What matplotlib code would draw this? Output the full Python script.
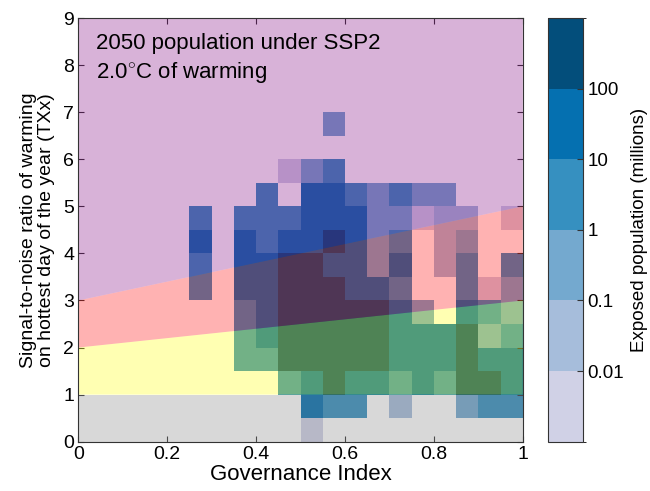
import numpy as np
import matplotlib
matplotlib.use('Agg')
import matplotlib.pyplot as plt
from matplotlib.colors import ListedColormap, BoundaryNorm
from matplotlib.patches import Polygon

plt.rcParams['font.family'] = ['Liberation Sans', 'DejaVu Sans']
plt.rcParams['mathtext.fontset'] = 'custom'
plt.rcParams['mathtext.rm'] = 'Liberation Sans'

n = np.nan

# cell edges: governance index (x) and signal-to-noise ratio (y)
x_edges = np.linspace(0, 1, 21)
y_edges = np.linspace(0, 7, 15)

# exposed population (millions), rows from y=0 upwards, nan = no people
exposed = [
    [n, n, n, n, n, n, n, n, n, n, 0.005, n, n, n, n, n, n, n, n, n],
    [n, n, n, n, n, n, n, n, n, n, 50, 5, 5, n, 0.05, n, n, 0.5, 5, 5],
    [n, n, n, n, n, n, n, n, n, 5, 50, 500, 50, 50, 5, 50, 5, 500, 500, 50],
    [n, n, n, n, n, n, n, 5, 5, 500, 500, 500, 500, 500, 50, 50, 50, 500, 50, 50],
    [n, n, n, n, n, n, n, 5, 50, 500, 500, 500, 500, 500, 50, 50, 50, 500, 0.5, 5],
    [n, n, n, n, n, n, n, 5, 50, 500, 500, 500, 500, 500, 50, 0.5, n, 50, 5, 0.5],
    [n, n, n, n, n, 5, n, 50, 50, 500, 500, 500, 50, 50, 5, n, n, 5, 0.005, 0.5],
    [n, n, n, n, n, 5, n, 50, 50, 500, 500, 50, 50, 0.5, 50, n, 0.05, 5, n, 5],
    [n, n, n, n, n, 50, n, 50, 5, 50, 50, 500, 50, 0.5, 5, n, 0.05, 0.5, n, n],
    [n, n, n, n, n, 5, n, 5, 5, 5, 50, 50, 50, 0.5, 0.5, 0.005, 0.05, 0.05, n, 0.005],
    [n, n, n, n, n, n, n, n, 5, n, 50, 50, 5, 0.5, 5, 0.5, 0.5, n, n, n],
    [n, n, n, n, n, n, n, n, n, 0.005, 0.5, 5, n, n, n, n, n, n, n, n],
    [n, n, n, n, n, n, n, n, n, n, n, n, n, n, n, n, n, n, n, n],
    [n, n, n, n, n, n, n, n, n, n, n, 0.5, n, n, n, n, n, n, n, n],
]

levels = [0.001, 0.01, 0.1, 1, 10, 100, 1000]
level_colors = ['#d0d1e6', '#a6bddb', '#74a9cf', '#3690c0', '#0570b0', '#034e7b']
cbar_ticks = [0.01, 0.1, 1, 10, 100]
cbar_labels = ['0.01', '0.1', '1', '10', '100']

# shaded zones (semi transparent, drawn on top of the cells)
zones = [
    ([(0, 0), (1, 0), (1, 1), (0, 1)], (0.5, 0.5, 0.5)),
    ([(0, 1), (1, 1), (1, 3), (0, 2)], (1, 1, 0)),
    ([(0, 2), (1, 3), (1, 5), (0, 3)], (1, 0, 0)),
    ([(0, 3), (1, 5), (1, 9), (0, 9)], (0.5, 0, 0.5)),
]

fig = plt.figure(figsize=(6.5, 4.91), dpi=100)
ax = fig.add_axes([0.1205, 0.1004, 0.6838, 0.8629])
cax = fig.add_axes([0.843, 0.1004, 0.054, 0.8629])

cmap = ListedColormap(level_colors)
norm = BoundaryNorm(levels, cmap.N)
mesh = ax.pcolormesh(x_edges, y_edges, np.ma.masked_invalid(np.array(exposed)),
                     cmap=cmap, norm=norm, zorder=1)

for pts, col in zones:
    ax.add_patch(Polygon(pts, closed=True, facecolor=col, edgecolor='none',
                         alpha=0.3, zorder=2))

ax.set_xlim(0, 1)
ax.set_ylim(0, 9)
ax.set_xticks([0, 0.2, 0.4, 0.6, 0.8, 1])
ax.set_xticklabels(['0', '0.2', '0.4', '0.6', '0.8', '1'])
ax.set_yticks(range(0, 10))
ax.tick_params(direction='in', top=True, right=True, labelsize=14, length=4,
               color='#333333', pad=3)
for s in ax.spines.values():
    s.set_color('#333333')
    s.set_zorder(5)
ax.set_xlabel('Governance Index', fontsize=16, labelpad=1)
ax.set_ylabel('Signal-to-noise ratio of warming\non hottest day of the year (TXx)',
              fontsize=14, labelpad=6, linespacing=1.1)

ax.text(0.04, 8.45, '2050 population under SSP2', fontsize=16, va='center', zorder=6)
ax.text(0.04, 7.85, r'2.0$^{\circ}$C of warming', fontsize=16, va='center', zorder=6)

cb = fig.colorbar(mesh, cax=cax, ticks=cbar_ticks)
cb.ax.set_yticklabels(cbar_labels)
cb.ax.tick_params(direction='in', labelsize=13.5, length=4, color='#333333', pad=3)
cb.outline.set_edgecolor('#333333')
cb.set_label('Exposed population (millions)', fontsize=13.5, labelpad=5)

fig.savefig('out.png', dpi=100)
